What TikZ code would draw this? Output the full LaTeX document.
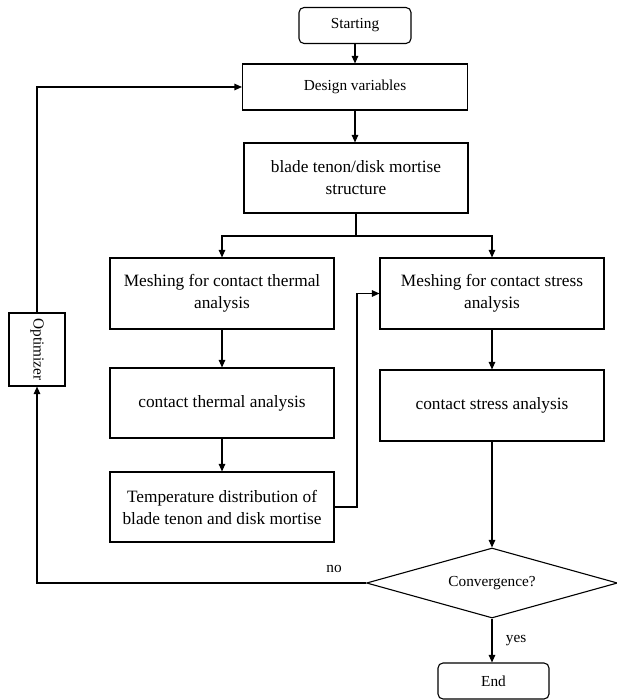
\documentclass[tikz,border=0pt]{standalone}
\usepackage{fontspec}
\setmainfont{Liberation Serif}
\usetikzlibrary{arrows.meta,shapes.geometric}
\begin{document}
\begin{tikzpicture}[x=1pt,y=-1pt,
  line width=1.1pt,
  big/.style={font=\fontsize{17.3}{22}\selectfont, align=center},
  small/.style={font=\fontsize{15.3}{19}\selectfont},
  box/.style={draw, rectangle, inner sep=2pt, minimum width=224pt, minimum height=70pt, big},
  term/.style={draw, rectangle, rounded corners=5pt, minimum width=112pt, minimum height=36pt, small},
  arr/.style={-{Triangle[length=7.5pt,width=6.5pt]}}
]
\useasboundingbox (0,0) rectangle (617,700);

\node[term] (start) at (355,25.5) {Starting};
\node[draw, rectangle, minimum width=225pt, minimum height=46pt, small] (design) at (355,87) {Design variables};
\node[box] (blade) at (356,178) {blade tenon/disk mortise\\structure};
\node[box, minimum height=71pt] (mt) at (222,293.5) {Meshing for contact thermal\\analysis};
\node[box] (ct) at (222,403) {contact thermal analysis};
\node[box] (temp) at (222,507) {Temperature distribution of\\blade tenon and disk mortise};
\node[box, minimum height=71pt] (ms) at (492,293.5) {Meshing for contact stress\\analysis};
\node[box, minimum height=71pt] (cs) at (492,405.5) {contact stress analysis};
\node[draw, diamond, aspect=3.6, inner sep=0pt, minimum width=251pt, minimum height=70pt, small] (conv) at (492,583) {Convergence?};
\node[term, minimum width=111pt] (end) at (493.5,681) {End};
\node[draw, rectangle, rotate=-90, minimum width=73pt, minimum height=56pt, small] (opt) at (37,349.5) {Optimizer};

\coordinate (br) at (356,236);
\coordinate (cA) at (357,293.5);

\draw[arr] (start.south) -- (start.south |- design.north);
\draw[arr] (design.south) -- (design.south |- blade.north);
\draw (blade.south) -- (br);
\draw[arr] (br) -| (mt.north);
\draw[arr] (br) -| (ms.north);
\draw[arr] (mt) -- (ct);
\draw[arr] (ct) -- (temp);
\draw[arr] (temp.east) -| (cA) -- (ms.west);
\draw[arr] (ms) -- (cs);
\draw[arr] (cs) -- (conv.north);
\draw[arr] (conv.south) -- node[right=10pt, small] {yes} (conv.south |- end.north);
\draw[arr] (conv.west) -| (opt);
\draw[arr] (opt) |- (design.west);
\node[small] (nolab) at (334,569) {no};
\end{tikzpicture}
\end{document}
